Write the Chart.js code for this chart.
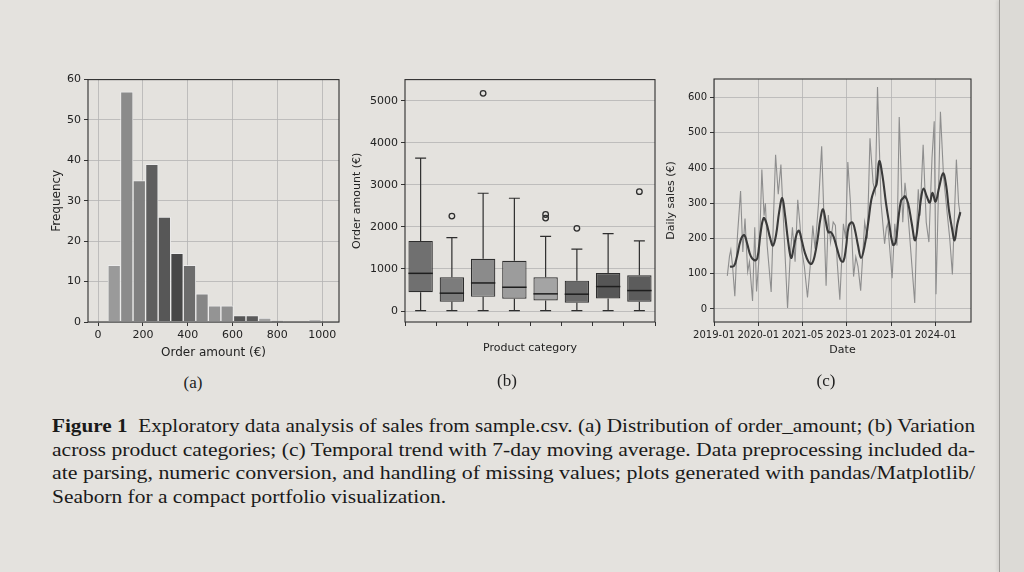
<!DOCTYPE html>
<html><head><meta charset="utf-8">
<script src="https://cdn.jsdelivr.net/npm/chart.js@4.4.1/dist/chart.umd.min.js"></script>
<style>
html,body{margin:0;padding:0;}
body{width:1024px;height:572px;overflow:hidden;position:relative;background:#e4e2de;}
canvas{position:absolute;}
#edge{position:absolute;left:999px;top:0;width:25px;height:572px;background:#dcdad6;border-left:1px solid #9d9b97;box-shadow:-2px 0 3px rgba(0,0,0,0.08);}
.cap{position:absolute;left:52px;font-family:'Liberation Serif','DejaVu Serif',serif;font-size:18px;color:#1a1a1a;white-space:nowrap;transform-origin:0 50%;line-height:22px;}
.sub{position:absolute;font-family:'Liberation Serif',serif;font-size:17px;color:#222;transform:translate(-50%,-50%);}
</style></head><body>
<div id="edge"></div>
<canvas id="ca" width="310" height="300" style="left:40px;top:70px"></canvas>
<canvas id="cb" width="320" height="300" style="left:345px;top:70px"></canvas>
<canvas id="cc" width="325" height="300" style="left:660px;top:70px"></canvas>
<div class="sub" style="left:193px;top:383px">(a)</div>
<div class="sub" style="left:507px;top:381px">(b)</div>
<div class="sub" style="left:826px;top:381px">(c)</div>
<div class="cap" id="l1" data-w="923" style="top:415px"><b>Figure 1</b>&nbsp; Exploratory data analysis of sales from sample.csv. (a) Distribution of order_amount; (b) Variation</div>
<div class="cap" id="l2" data-w="923" style="top:439px">across product categories; (c) Temporal trend with 7-day moving average. Data preprocessing included da-</div>
<div class="cap" id="l3" data-w="923" style="top:462px">ate parsing, numeric conversion, and handling of missing values; plots generated with pandas/Matplotlib/</div>
<div class="cap" id="l4" data-w="394" style="top:486px">Seaborn for a compact portfolio visualization.</div>
<script>
// ---------- (a) histogram ----------
const histBinCenters = [72,128,184,240,296,352,408,464,520,576,632,688,744,800,856,912,968];
const histCounts     = [14,57,35,39,26,17,14,7,4,4,1.6,1.6,1,0.3,0,0,0.5];
const histColors     = ['#9a9a9a','#8b8b8b','#808080','#5e5e5e','#575757','#474747','#6c6c6c','#868686','#949494','#8f8f8f','#555555','#5a5a5a','#a0a0a0','#a8a8a8','#888888','#888888','#8a8a8a'];
const histXTicks = [0,200,400,600,800,1000];
const histYTicks = [0,10,20,30,40,50,60];

// ---------- (b) boxplot ----------
const boxCategories = ['C1','C2','C3','C4','C5','C6','C7','C8'];
const boxLow    = [10,10,10,10,10,10,10,10];
const boxQ1     = [448,220,338,291,252,197,299,220];
const boxMedian = [896,425,668,566,409,401,582,487];
const boxQ3     = [1667,802,1242,1195,802,723,904,849];
const boxHigh   = [3632,1745,2799,2681,1777,1470,1840,1667];
const boxColors = ['#707070','#7c7c7c','#8b8b8b','#9c9c9c','#a4a4a4','#6a6a6a','#565656','#5c5c5c'];
const outlierCat = ['C2','C3','C5','C5','C6','C8'];
const outlierVal = [2256,5173,2209,2296,1965,2838];
const boxYTicks = [0,1000,2000,3000,4000,5000];

// ---------- (c) time series ----------
const dateTickPos    = [0,1,2,3,4,5];
const dateTickLabels = ['2019-01','2020-01','2021-05','2023-01','2023-01','2024-01'];
const salesYTicks = [0,100,200,300,400,500,600];
const rawT = [0.30,0.35,0.38,0.42,0.47,0.53,0.60,0.65,0.70,0.73,0.76,0.80,0.87,0.92,0.96,1.02,1.08,1.13,1.16,1.20,1.29,1.34,1.39,1.45,1.51,1.58,1.66,1.72,1.77,1.83,1.89,1.94,1.98,2.04,2.11,2.17,2.23,2.28,2.36,2.43,2.53,2.58,2.63,2.69,2.74,2.78,2.84,2.92,2.97,3.02,3.08,3.15,3.20,3.25,3.31,3.40,3.46,3.52,3.59,3.64,3.69,3.77,3.85,3.89,3.92,4.02,4.08,4.13,4.18,4.26,4.31,4.36,4.45,4.53,4.58,4.61,4.65,4.72,4.79,4.85,4.92,4.97,5.01,5.11,5.18,5.26,5.32,5.38,5.47,5.52,5.56];
const rawSales = [94,150,168,120,36,209,335,162,257,180,106,134,23,232,50,150,396,265,300,180,48,250,438,326,410,218,3,150,232,134,310,240,167,120,33,120,237,171,300,462,66,267,190,247,237,134,26,242,200,417,300,92,148,120,52,246,200,485,358,330,630,300,185,230,242,87,242,180,545,246,358,300,150,17,250,340,265,466,246,190,429,533,42,560,377,275,200,98,424,300,265];
const maT = [0.36,0.45,0.52,0.60,0.68,0.75,0.83,0.92,0.98,1.05,1.12,1.18,1.27,1.33,1.40,1.47,1.54,1.60,1.67,1.74,1.80,1.87,1.92,1.98,2.05,2.13,2.20,2.27,2.34,2.40,2.46,2.52,2.58,2.64,2.70,2.78,2.86,2.92,2.98,3.04,3.12,3.18,3.25,3.32,3.40,3.48,3.55,3.62,3.67,3.73,3.80,3.88,3.95,4.04,4.10,4.16,4.22,4.27,4.31,4.38,4.46,4.54,4.62,4.68,4.73,4.80,4.87,4.93,5.00,5.08,5.17,5.24,5.30,5.37,5.43,5.49,5.56];
const maSales = [120,122,150,195,210,185,150,138,145,215,258,245,200,180,210,275,315,270,195,145,175,215,222,195,160,135,128,150,200,255,283,250,218,218,205,170,138,135,175,235,246,225,180,145,180,245,310,340,355,420,380,302,245,182,190,255,307,315,320,300,245,195,260,320,342,320,302,330,305,345,385,350,283,230,195,240,275];

// ---------- shared styling ----------
Chart.defaults.font.family = "'DejaVu Sans', sans-serif";
Chart.defaults.color = '#222';
Chart.defaults.animation = false;
const F = (s) => ({family:"'DejaVu Sans', sans-serif", size:s});
const gridBase = {color:'#b4b4b4', lineWidth:0.8, tickColor:'#333', tickLength:4, tickWidth:1, drawTicks:true};
const frame = {id:'frame', afterDraw(c){const a=c.chartArea, x=c.ctx; x.save(); x.strokeStyle='#2e2e2e'; x.lineWidth=1.1; x.strokeRect(a.left, a.top, a.right-a.left, a.bottom-a.top); x.restore();}};
const fixTicks = arr => s => { s.ticks = arr.map(v => ({value:v})); };
const fixW = w => s => { s.width = w; };
const fixH = h => s => { s.height = h; };
const plain = v => String(v);
const plugins = {legend:{display:false}, tooltip:{enabled:false}};

// (a)
new Chart(document.getElementById('ca'), {
  type:'bar',
  data:{datasets:[{data:histBinCenters.map((c,i)=>({x:c,y:histCounts[i]})), backgroundColor:histColors, borderColor:'rgba(236,236,236,0.9)', borderWidth:1, borderSkipped:false, barPercentage:1, categoryPercentage:1}]},
  options:{responsive:false, devicePixelRatio:1, plugins, layout:{padding:{top:9,right:11,left:0,bottom:0}},
    scales:{
      x:{type:'linear', offset:false, min:-45, max:1075, afterBuildTicks:fixTicks(histXTicks), afterFit:fixH(48), grid:{...gridBase, offset:false}, border:{display:false},
         ticks:{font:F(11), color:'#222', maxRotation:0, padding:3, callback:plain},
         title:{display:true, text:'Order amount (€)', font:F(12), color:'#222', padding:{top:0,bottom:10}}},
      y:{min:0, max:60, afterBuildTicks:fixTicks(histYTicks), afterFit:fixW(48), grid:{...gridBase}, border:{display:false},
         ticks:{font:F(11), color:'#222', padding:3, callback:plain},
         title:{display:true, text:'Frequency', font:F(12), color:'#222', padding:{top:10,bottom:0}}}
    }},
  plugins:[frame]
});

// (b)
const boxParts = {id:'boxParts',
  beforeDatasetsDraw(c){ const x=c.ctx, ys=c.scales.y, meta=c.getDatasetMeta(0);
    x.save(); x.strokeStyle='#2e2e2e'; x.lineWidth=1.2;
    meta.data.forEach((bar,i)=>{ const cw=bar.width*0.45;
      x.beginPath();
      x.moveTo(bar.x, ys.getPixelForValue(boxLow[i])); x.lineTo(bar.x, ys.getPixelForValue(boxQ1[i]));
      x.moveTo(bar.x, ys.getPixelForValue(boxQ3[i])); x.lineTo(bar.x, ys.getPixelForValue(boxHigh[i]));
      x.moveTo(bar.x-cw/2, ys.getPixelForValue(boxLow[i])); x.lineTo(bar.x+cw/2, ys.getPixelForValue(boxLow[i]));
      x.moveTo(bar.x-cw/2, ys.getPixelForValue(boxHigh[i])); x.lineTo(bar.x+cw/2, ys.getPixelForValue(boxHigh[i]));
      x.stroke(); });
    x.restore(); },
  afterDatasetsDraw(c){ const x=c.ctx, ys=c.scales.y, meta=c.getDatasetMeta(0);
    x.save(); x.strokeStyle='#1e1e1e'; x.lineWidth=1.5;
    meta.data.forEach((bar,i)=>{ const y=ys.getPixelForValue(boxMedian[i]);
      x.beginPath(); x.moveTo(bar.x-bar.width/2, y); x.lineTo(bar.x+bar.width/2, y); x.stroke(); });
    x.restore(); }
};
new Chart(document.getElementById('cb'), {
  type:'bar',
  data:{labels:boxCategories, datasets:[
    {type:'bar', data:boxCategories.map((_,i)=>[boxQ1[i],boxQ3[i]]), backgroundColor:boxColors, borderColor:'#2e2e2e', borderWidth:1.2, borderSkipped:false, barPercentage:0.78, categoryPercentage:1},
    {type:'line', data:outlierCat.map((c,i)=>({x:c,y:outlierVal[i]})), showLine:false, pointRadius:2.8, pointBorderWidth:1.3, pointBorderColor:'#2e2e2e', pointBackgroundColor:'rgba(0,0,0,0)'}
  ]},
  options:{responsive:false, devicePixelRatio:1, plugins, layout:{padding:{top:8,right:10,left:0,bottom:0}},
    scales:{
      x:{afterFit:fixH(48), grid:{...gridBase, drawOnChartArea:false}, border:{display:false},
         ticks:{font:F(11), callback:()=>''},
         title:{display:true, text:'Product category', font:F(11), color:'#222', padding:{top:0,bottom:15}}},
      y:{min:-260, max:5500, afterBuildTicks:fixTicks(boxYTicks), afterFit:fixW(60), grid:{...gridBase}, border:{display:false},
         ticks:{font:F(11), color:'#222', padding:3, callback:plain},
         title:{display:true, text:'Order amount (€)', font:F(11), color:'#222', padding:{top:6,bottom:0}}}
    }},
  plugins:[boxParts, frame]
});

// (c)
new Chart(document.getElementById('cc'), {
  type:'line',
  data:{datasets:[
    {data:maT.map((t,i)=>({x:t,y:maSales[i]})), borderColor:'#3a3a3a', borderWidth:2.1, pointRadius:0, tension:0.4, order:0},
    {data:rawT.map((t,i)=>({x:t,y:rawSales[i]})), borderColor:'#8e8e8e', borderWidth:1.1, pointRadius:0, tension:0, order:1}
  ]},
  options:{responsive:false, devicePixelRatio:1, plugins, layout:{padding:{top:7,right:14,left:0,bottom:0}},
    scales:{
      x:{type:'linear', min:0, max:5.8, afterBuildTicks:fixTicks(dateTickPos), afterFit:fixH(48), grid:{...gridBase}, border:{display:false},
         ticks:{font:F(10), color:'#222', maxRotation:0, autoSkip:false, callback:v=>dateTickLabels[dateTickPos.indexOf(v)] ?? ''},
         title:{display:true, text:'Date', font:F(11), color:'#222', padding:{top:0,bottom:13}}},
      y:{min:-37, max:653, afterBuildTicks:fixTicks(salesYTicks), afterFit:fixW(54), grid:{...gridBase}, border:{display:false},
         ticks:{font:F(10), color:'#222', padding:3, callback:plain},
         title:{display:true, text:'Daily sales (€)', font:F(11), color:'#222', padding:{top:5,bottom:0}}}
    }},
  plugins:[frame]
});

// caption line fitting
document.querySelectorAll('.cap').forEach(el=>{
  const w = el.getBoundingClientRect().width;
  const target = +el.dataset.w;
  el.style.transform = 'scaleX(' + (target / w) + ')';
});
</script>
</body></html>
